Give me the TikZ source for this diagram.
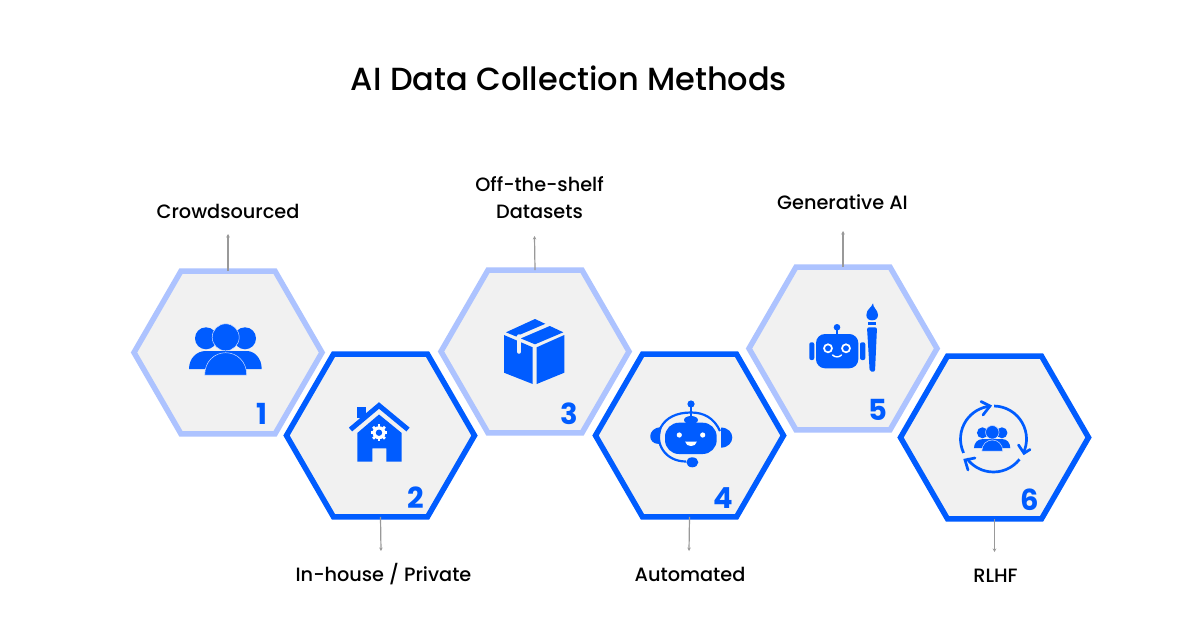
\documentclass[tikz,border=0pt]{standalone}
\usepackage{fontspec}
\setmainfont{Poppins Medium}[BoldFont={Poppins Bold}]
\usepackage{xcolor}
\usepackage{tikz}
\usetikzlibrary{shapes.geometric,arrows.meta,positioning}
\definecolor{methodblue}{HTML}{005CFF}
\definecolor{methodpale}{HTML}{ADC3FF}
\definecolor{hexgray}{HTML}{F1F1F1}
\definecolor{rimblue}{HTML}{D2E0FF}

\tikzset{
    people/.pic={
        % side heads and shoulders, then the front figure
        \fill[methodblue] (-19.7,1) circle (11) (19.3,1) circle (11);
        \fill[methodblue] (-36.7,31.7) .. controls (-36.7,21) and (-29,13.7) .. (-20,13.7) -- (21,13.7) .. controls (29,13.7) and (36,21) .. (36,31.7) -- cycle;
        \filldraw[methodblue, draw=rimblue, line width=.5pt] (0,0) circle (13.5);
        \filldraw[methodblue, draw=rimblue, line width=.5pt] (-21,37.7) .. controls (-21,24) and (-11,15.4) .. (0,15.4) .. controls (11,15.4) and (21,24) .. (21,37.7) -- cycle;
    }
}

\begin{document}
\begin{tikzpicture}[
    x=1pt, y=-1pt,
    hexlight/.style={regular polygon, regular polygon sides=6, draw=methodpale, fill=hexgray, line width=5.5pt, minimum size=188pt, inner sep=0pt, outer sep=0pt},
    hexdark/.style={hexlight, draw=methodblue},
    number/.style={font=\fontsize{29}{29}\selectfont\bfseries, text=methodblue, inner sep=0pt},
    method/.style={font=\fontsize{19.3}{27}\selectfont, align=center, inner sep=0pt},
    arrow/.style={-{Stealth[length=3.5pt, width=3.5pt]}, draw=black!40, line width=1.2pt}
]
    \useasboundingbox (0,0) rectangle (1200,640);
    \fill[white] (0,0) rectangle (1200,640);

    % Title
    \node[font=\fontsize{32}{32}\selectfont, inner sep=0pt] (title) at (569,78) {AI Data Collection Methods};

    % Tips
    \coordinate (tip1) at (228,234);
    \coordinate (tip2) at (381,551);
    \coordinate (tip3) at (534.5,236);
    \coordinate (tip4) at (689,551);
    \coordinate (tip5) at (843,231);
    \coordinate (tip6) at (994.5,552);

    % Hexagons
    \node[hexlight] (hex1) at (228,352.5) {};
    \node[hexdark] (hex2) at (380.5,435.5) {};
    \node[hexlight] (hex3) at (535,351.5) {};
    \node[hexdark] (hex4) at (689.5,435.5) {};
    \node[hexlight] (hex5) at (843,348.5) {};
    \node[hexdark] (hex6) at (994.5,437.5) {};

    % Arrows
    \draw[arrow] (hex1.north) -- (tip1);
    \draw[arrow] (hex2.south) -- (tip2);
    \draw[arrow] (hex3.north) -- (tip3);
    \draw[arrow] (hex4.south) -- (tip4);
    \draw[arrow] (hex5.north) -- (tip5);
    \draw[arrow] (hex6.south) -- (tip6);

    % Labels
    \node[method] (name1) at (228,211) {Crowdsourced};
    \node[method] (name2) at (383.5,574) {In-house / Private};
    \node[method] (name3) at (539.5,197.5) {Off-the-shelf\\Datasets};
    \node[method] (name4) at (690,574) {Automated};
    \node[method] (name5) at (842.5,202) {Generative AI};
    \node[method] (name6) at (995.5,576) {RLHF};

    % Numbers
    \node[number] (num1) at (262,413.5) {1};
    \node[number] (num2) at (415.5,498) {2};
    \node[number] (num3) at (569,414) {3};
    \node[number] (num4) at (723.5,498) {4};
    \node[number] (num5) at (877.5,410) {5};
    \node[number] (num6) at (1029.5,500) {6};

    % Icon 1
    \pic at (225.7,337.3) {people};

    % Icon 2: house
    \fill[methodblue] (357.3,407) rectangle (365.7,418);
    \draw[methodblue, line width=5pt] (350.5,429.5) -- (379,405.5) -- (408,429.5);
    \fill[methodblue] (357.3,433) -- (379,414.5) -- (401.7,433) -- (401.7,461.7) -- (386.3,461.7) -- (386.3,448.3) -- (372.3,448.3) -- (372.3,461.7) -- (357.3,461.7) -- cycle;
    \fill[white] (379,432.7) circle (6.5);
    \foreach \a in {0,45,...,315}
        \draw[white, line width=2.6pt] (379,432.7) ++(\a:5) -- ++(\a:3.4);
    \fill[methodblue] (379,432.7) circle (3.2);

    % Icon 3: box
    \fill[methodblue] (504,335) -- (532.7,347.3) -- (532.7,384) -- (504,372.7) -- cycle;
    \fill[methodblue] (536.7,347.3) -- (564.3,335) -- (564.3,372.7) -- (536.7,384) -- cycle;
    \fill[methodblue] (535,319) -- (563.3,332.3) -- (535,344.3) -- (506,332.3) -- cycle;
    \draw[hexgray, line width=3.5pt] (517,338) -- (552,323);
    \draw[hexgray, line width=3.5pt, line cap=round] (519,336) -- (519,352);

    % Icon 4: headset bot
    \draw[methodblue, line width=1.8pt] (691,404) -- (691,421);
    \fill[methodblue] (691,404) circle (3.6);
    \fill[methodblue] (691,420) ellipse (7 and 4);
    \fill[methodblue, rounded corners=14pt] (665,422.7) rectangle (716.7,454);
    \fill[white] (679.3,435) circle (2.6) (702.7,435) circle (2.6);
    \fill[white] (685.2,441.7) -- (696.8,441.7) .. controls (696,447.5) and (686,447.5) .. (685.2,441.7) -- cycle;
    \draw[methodblue, line width=2.2pt] (720,431) .. controls (714,418) and (704,412.5) .. (691,412.5) .. controls (676,412.5) and (666,418) .. (661,427) .. controls (654,443) and (665,461.5) .. (686,461.5);
    \fill[methodblue] (661,427) .. controls (647,428) and (647,444) .. (659,444) -- cycle;
    \fill[methodblue] (721,427.5) .. controls (736,428) and (736,447) .. (721,447.7) -- cycle;
    \fill[methodblue] (692.3,462.3) ellipse (6 and 5);

    % Icon 5: bot with brush
    \draw[methodblue, line width=1.6pt] (837,327.3) -- (837,335);
    \fill[methodblue] (837,327.3) circle (3.3);
    \fill[methodblue, rounded corners=9pt] (816,334) rectangle (858.3,368.3);
    \fill[methodblue, rounded corners=2pt] (809.3,342.3) rectangle (814.3,360);
    \fill[methodblue, rounded corners=2pt] (860,342.3) rectangle (865.3,360);
    \draw[white, line width=1.7pt] (828,348.3) circle (4) (846,348.3) circle (4);
    \draw[white, line width=1.4pt, line cap=round] (832.5,355) .. controls (835,357.5) and (839,357.5) .. (841.5,355);
    \fill[methodblue] (873,303.3) .. controls (873,308) and (878,310) .. (878,315) .. controls (878,318.5) and (875.5,320.3) .. (872,320.3) .. controls (868.5,320.3) and (866.4,318.5) .. (866.4,315) .. controls (866.4,309) and (871.5,308) .. (873,303.3) -- cycle;
    \fill[methodblue] (867.7,321.7) rectangle (876.3,325);
    \fill[methodblue, rounded corners=2pt] (867,327.3) -- (877,327.3) -- (875,371.7) -- (869.7,371.7) -- cycle;

    % Icon 6: people in a cycle
    \draw[methodblue, line width=2.7pt] (993.5,439) ++(155:33) arc[start angle=155, end angle=264, radius=33];
    \draw[methodblue, line width=2.7pt] (993.5,439) ++(271:33) arc[start angle=271, end angle=385, radius=33];
    \draw[methodblue, line width=2.7pt] (993.5,439) ++(38:33) arc[start angle=38, end angle=143.6, radius=33];
    \draw[methodblue, line width=2.7pt, line cap=round] (981,401.5) -- (990,406) -- (983,415);
    \draw[methodblue, line width=2.7pt, line cap=round] (1018.5,445) -- (1024,453.3) -- (1030,449.5);
    \draw[methodblue, line width=2.7pt, line cap=round] (975,458) -- (965,460) -- (968,470);
    \pic[scale=.5] at (992.3,432.3) {people};
\end{tikzpicture}
\end{document}
